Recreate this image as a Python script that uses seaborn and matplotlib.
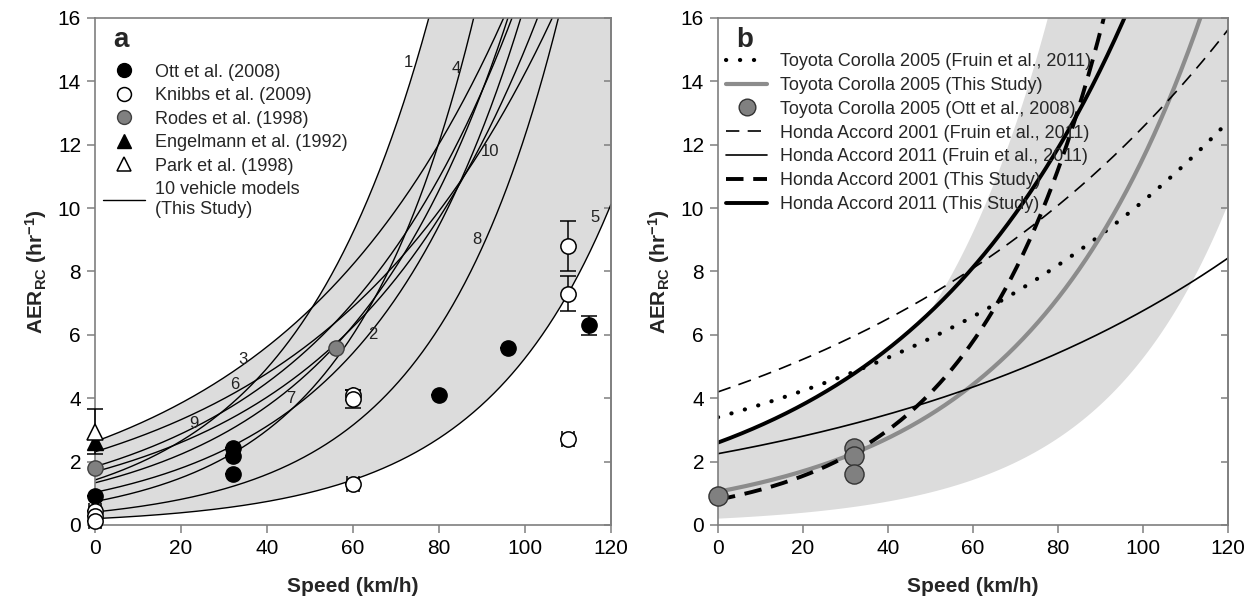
import numpy as np
import pandas as pd
import matplotlib
matplotlib.use("Agg")
import matplotlib.pyplot as plt
import seaborn as sns
from matplotlib.lines import Line2D

# ---------------- data ----------------
# Panel a: 10 vehicle models (This Study), AER = intercept * exp(rate * speed)
model_ids = ["1", "2", "3", "4", "5", "6", "7", "8", "9", "10"]
model_intercept = [1.42, 1.33, 2.63, 0.74, 0.20, 2.31, 1.03, 0.41, 1.84, 1.68]
model_rate = [0.0312, 0.0259, 0.0190, 0.0349, 0.0327, 0.0182, 0.0277, 0.0340, 0.0223, 0.0219]

# measured data from literature
ott_x = [0, 32, 32, 32, 80, 96, 115]
ott_y = [0.92, 2.42, 2.18, 1.60, 4.10, 5.60, 6.30]
ott_err = [0, 0, 0, 0, 0, 0, 0.30]

knibbs_x = [0, 0, 0, 60, 60, 60, 110, 110, 110]
knibbs_y = [0.45, 0.28, 0.12, 4.10, 3.98, 1.30, 8.80, 7.30, 2.70]
knibbs_yerr = [0, 0, 0, 0.15, 0.28, 0, 0.80, 0.55, 0]
knibbs_xerr = [1.5, 1.5, 1.5, 0, 0, 1.5, 0, 0, 1.5]

rodes_x = [0, 56]
rodes_y = [1.80, 5.60]

engelmann_x = [0]
engelmann_y = [2.62]

park_x = [0]
park_y = [2.95]
park_err = [0.70]

# Panel b: vehicle specific curves, AER = intercept * exp(rate * speed)
b_names = ["Toyota Corolla 2005 (Fruin et al., 2011)",
           "Toyota Corolla 2005 (This Study)",
           "Honda Accord 2001 (Fruin et al., 2011)",
           "Honda Accord 2011 (Fruin et al., 2011)",
           "Honda Accord 2001 (This Study)",
           "Honda Accord 2011 (This Study)"]
b_intercept = [3.40, 1.05, 4.20, 2.25, 0.80, 2.60]
b_rate = [0.0110, 0.0240, 0.01095, 0.0110, 0.0330, 0.0190]

corolla_ott_x = [0, 32, 32, 32]
corolla_ott_y = [0.92, 2.42, 2.18, 1.60]

# ---------------- style ----------------
sns.set_theme(style="ticks")
plt.rcParams["font.family"] = ["Liberation Sans", "DejaVu Sans"]
plt.rcParams["mathtext.fontset"] = "custom"
plt.rcParams["mathtext.rm"] = "Liberation Sans"
plt.rcParams["mathtext.bf"] = "Liberation Sans:bold"

BAND = "#dcdcdc"
SPINE = "#7f7f7f"

fig = plt.figure(figsize=(12.6, 6.06), dpi=100)
ax1 = fig.add_axes([0.0754, 0.1337, 0.4095, 0.8366])
ax2 = fig.add_axes([0.5698, 0.1337, 0.4048, 0.8366])

speed = np.linspace(0, 120, 601)
curves = pd.DataFrame({mid: a * np.exp(r * speed)
                       for mid, a, r in zip(model_ids, model_intercept, model_rate)})
upper = curves.max(axis=1).values
lower = curves.min(axis=1).values


def style_axes(ax):
    ax.set_xlim(0, 120)
    ax.set_ylim(0, 16)
    ax.set_xticks(range(0, 121, 20))
    ax.set_yticks(range(0, 17, 2))
    for s in ax.spines.values():
        s.set_color(SPINE)
        s.set_linewidth(1.2)
        s.set_visible(True)
    ax.tick_params(axis="both", direction="out", length=6, width=1.1,
                   color=SPINE, labelsize=15, labelcolor="black", pad=4)
    sec = ax.secondary_yaxis("right")
    sec.set_yticks(range(0, 17, 2))
    sec.tick_params(direction="in", length=5, width=1.1, color=SPINE, labelright=False)
    sec.spines["right"].set_color(SPINE)
    sec.spines["right"].set_linewidth(1.2)
    ax.set_xlabel("Speed (km/h)", fontsize=15, fontweight="bold", labelpad=14)
    ax.set_ylabel(r"$\mathbf{AER_{RC}}$ $\mathbf{(hr^{-1})}$", fontsize=15, labelpad=6)


# ---------------- panel a ----------------
ax = ax1
ax.fill_between(speed, lower, upper, color=BAND, lw=0, zorder=0)
for mid in model_ids:
    sns.lineplot(x=speed, y=curves[mid].values, ax=ax, color="black", lw=1.0,
                 zorder=2, legend=False)

label_pos = {"1": (72.9, 14.6), "4": (83.9, 14.4), "10": (91.8, 11.8), "8": (88.9, 9.0),
             "5": (116.2, 9.7), "3": (34.3, 5.23), "6": (32.6, 4.44), "9": (22.9, 3.19),
             "7": (45.6, 3.98), "2": (64.5, 6.0)}
for mid, (lx, ly) in label_pos.items():
    ax.text(lx, ly, mid, fontsize=12, color="#222222", ha="center", va="center", zorder=4)

ms = 11
ekw = dict(ecolor="black", elinewidth=1.1, capsize=6, capthick=1.1, ls="none", zorder=3)
ax.errorbar(ott_x, ott_y, yerr=ott_err, fmt="o", ms=ms, mfc="black", mec="black",
            clip_on=False, **ekw)
ax.errorbar(knibbs_x, knibbs_y, yerr=knibbs_yerr, xerr=knibbs_xerr, fmt="o", ms=ms,
            mfc="white", mec="black", mew=1.1, clip_on=False, **ekw)
ax.errorbar(rodes_x, rodes_y, fmt="o", ms=ms, mfc="#808080", mec="#404040", mew=1.0,
            clip_on=False, **ekw)
ax.errorbar(engelmann_x, engelmann_y, fmt="^", ms=ms, mfc="black", mec="black",
            clip_on=False, **ekw)
ax.errorbar(park_x, park_y, yerr=park_err, fmt="^", ms=ms, mfc="white", mec="black",
            mew=1.1, clip_on=False, **ekw)

style_axes(ax)
ax.text(0.05, 0.956, "a", transform=ax.transAxes, fontsize=20, fontweight="bold",
        va="center", ha="center")
handles_a = [
    Line2D([], [], ls="none", marker="o", ms=10, mfc="black", mec="black"),
    Line2D([], [], ls="none", marker="o", ms=10, mfc="white", mec="black", mew=1.1),
    Line2D([], [], ls="none", marker="o", ms=10, mfc="#808080", mec="#404040"),
    Line2D([], [], ls="none", marker="^", ms=10, mfc="black", mec="black"),
    Line2D([], [], ls="none", marker="^", ms=10, mfc="white", mec="black", mew=1.1),
    Line2D([], [], color="black", lw=1.0),
]
labels_a = ["Ott et al. (2008)", "Knibbs et al. (2009)", "Rodes et al. (1998)",
            "Engelmann et al. (1992)", "Park et al. (1998)",
            "10 vehicle models\n(This Study)"]
ax.legend(handles_a, labels_a, loc="upper left", bbox_to_anchor=(0.0155, 0.91),
          frameon=False, fontsize=13, handlelength=2.3, handletextpad=0.6,
          labelspacing=0.36, borderaxespad=0.0, borderpad=0.0)

# ---------------- panel b ----------------
ax = ax2
ax.fill_between(speed, lower, upper, color=BAND, lw=0, zorder=0)
b_styles = [
    dict(color="black", lw=3.0, ls=(0, (0.05, 3.3)), dash_capstyle="round"),
    dict(color="#8c8c8c", lw=3.0, ls="-"),
    dict(color="black", lw=1.2, ls=(0, (8, 5))),
    dict(color="black", lw=1.2, ls="-"),
    dict(color="black", lw=2.8, ls=(0, (4.5, 2.5))),
    dict(color="black", lw=2.8, ls="-"),
]
for name, a, r, st in zip(b_names, b_intercept, b_rate, b_styles):
    yv = a * np.exp(r * speed)
    sns.lineplot(x=speed, y=yv, ax=ax, zorder=2, legend=False, **st)
ax.scatter(corolla_ott_x, corolla_ott_y, s=190, c="#808080", edgecolors="#333333",
           linewidths=1.0, zorder=3, clip_on=False)
style_axes(ax)
ax.text(0.053, 0.957, "b", transform=ax.transAxes, fontsize=20, fontweight="bold",
        va="center", ha="center")
handles_b = [
    Line2D([], [], **b_styles[0]),
    Line2D([], [], **b_styles[1]),
    Line2D([], [], ls="none", marker="o", ms=12, mfc="#808080", mec="#333333"),
    Line2D([], [], **b_styles[2]),
    Line2D([], [], **b_styles[3]),
    Line2D([], [], **b_styles[4]),
    Line2D([], [], **b_styles[5]),
]
labels_b = [b_names[0], b_names[1], "Toyota Corolla 2005 (Ott et al., 2008)",
            b_names[2], b_names[3], b_names[4], b_names[5]]
ax.legend(handles_b, labels_b, loc="upper left", bbox_to_anchor=(0.0157, 0.931),
          frameon=False, fontsize=13, handlelength=2.3, handletextpad=0.7,
          labelspacing=0.38, borderaxespad=0.0, borderpad=0.0)

fig.savefig("out.png", dpi=100)
